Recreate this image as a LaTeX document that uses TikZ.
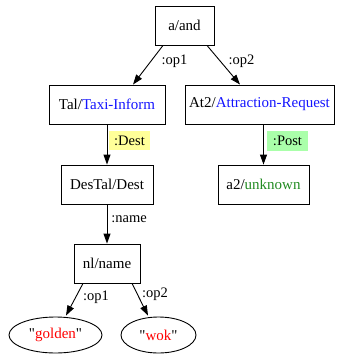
\documentclass[tikz,border=0pt]{standalone}
\usepackage{fontspec}
\setmainfont{Liberation Serif}[Ligatures=TeXOff]
\usetikzlibrary{arrows.meta,shapes.geometric}
\definecolor{lblue}{RGB}{20,20,255}
\definecolor{lgreen}{RGB}{34,139,34}
\definecolor{lred}{RGB}{255,0,0}
\definecolor{byellow}{RGB}{255,255,153}
\definecolor{bgreen}{RGB}{170,255,170}
\begin{document}
\begin{tikzpicture}[x=1pt,y=-1pt,
  every node/.style={font=\fontsize{15}{18}\selectfont},
  box/.style={draw,line width=0.9pt,inner sep=0pt,minimum height=39pt},
  oval/.style={draw,ellipse,line width=0.9pt,inner sep=0pt,minimum height=36pt},
  elab/.style={inner sep=0pt,font=\fontsize{14.5}{17}\selectfont},
  hl/.style={inner sep=0pt,minimum width=41pt,minimum height=19.5pt,font=\fontsize{14.5}{17}\selectfont},
  conn/.style={line width=0.9pt,-{Triangle[length=10pt,width=7pt]}}]
\useasboundingbox (0,0) rectangle (341,354);
\node[box,minimum width=59pt] (a) at (184.5,25.5) {a/and};
\node[box,minimum width=116pt] (tal) at (107,104.5) {Tal/\textcolor{lblue}{Taxi-Inform}};
\node[box,minimum width=149pt] (at2) at (259.5,104.5) {At2/\textcolor{lblue}{Attraction-Request}};
\node[box,minimum width=92pt] (des) at (107,184.5) {DesTal/Dest};
\node[box,minimum width=91pt] (a2) at (263.5,184.5) {a2/\textcolor{lgreen}{unknown}};
\node[box,minimum width=66pt] (nl) at (107,263.5) {nl/name};
\node[oval,minimum width=93pt] (gold) at (55.5,335) {"\textcolor{lred}{golden}"};
\node[oval,minimum width=75pt] (wok) at (158.5,335) {"\textcolor{lred}{wok}"};
\draw[conn] ([xshift=-21.5pt]a.south) -- ([xshift=26pt]tal.north);
\draw[conn] ([xshift=22.5pt]a.south) -- ([xshift=-19.5pt]at2.north);
\draw[conn] (tal.south) -- (des.north);
\draw[conn] (a2.north |- at2.south) -- (a2.north);
\draw[conn] (des.south) -- (nl.north);
\draw[conn] ([xshift=-24pt]nl.south) -- ([xshift=10.5pt,yshift=1pt]gold.north);
\draw[conn] ([xshift=25pt]nl.south) -- ([xshift=-10.5pt,yshift=1pt]wok.north);
\node[elab] (l1) at (174.5,61.5) {:op1};
\node[elab] (l2) at (241.5,61.5) {:op2};
\node[hl,fill=byellow] (l3) at (129.5,140.5) {:Dest};
\node[hl,fill=bgreen] (l4) at (287.5,141) {:Post};
\node[elab] (l5) at (129,219) {:name};
\node[elab] (l6) at (96,297.5) {:op1};
\node[elab] (l7) at (155,294) {:op2};
\end{tikzpicture}
\end{document}
